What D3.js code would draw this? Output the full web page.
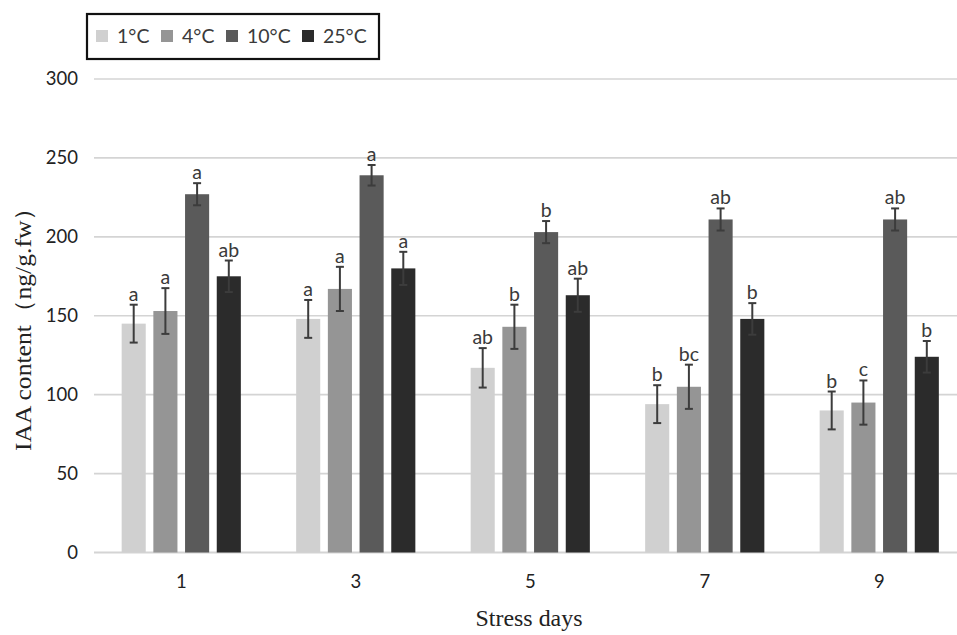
<!DOCTYPE html>
<html><head><meta charset="utf-8">
<script src="https://cdn.jsdelivr.net/npm/d3@7"></script>
<style>body{margin:0;background:#fff}svg{display:block}</style>
</head><body><svg id="c" width="957" height="635"></svg>
<script>
const days = ["1","3","5","7","9"];
const series = ["1°C","4°C","10°C","25°C"];
const v1 = [145,148,117,94,90];
const v4 = [153,167,143,105,95];
const v10 = [227,239,203,211,211];
const v25 = [175,180,163,148,124];
const e1 = [12,12,12.5,12,12];
const e4 = [14.5,14,14,14,14];
const e10 = [7,6.5,7,7,7];
const e25 = [10,10.5,10.5,10,10];
const l1 = ["a","a","ab","b","b"];
const l4 = ["a","a","b","bc","c"];
const l10 = ["a","a","b","ab","ab"];
const l25 = ["ab","a","ab","b","b"];
const yTicks = [0,50,100,150,200,250,300];
const colors = ["#d0d0d0","#959595","#5a5a5a","#2b2b2b"];

const vals=[v1,v4,v10,v25], errs=[e1,e4,e10,e25], labs=[l1,l4,l10,l25];
const svg=d3.select("#c");
const y=d3.scaleLinear().domain([0,300]).range([552.5,79]);
const x0=d3.scaleBand().domain(days).range([94,966.5]);
const x1=d3.scaleBand().domain(series).range([0,126.8]).paddingInner(0.24).paddingOuter(0.12);
const off=x0.bandwidth()/2-63.4;
const tickFont="Lato, 'Open Sans', sans-serif";
const serif="'Liberation Serif','DejaVu Serif',serif";

// grid
svg.append("g").selectAll("line").data(yTicks).join("line")
 .attr("x1",94).attr("x2",957).attr("y1",d=>y(d)).attr("y2",d=>y(d))
 .attr("stroke","#d4d4d4").attr("stroke-width",d=>d===0?2:1.6);
// y tick labels
svg.append("g").selectAll("text").data(yTicks).join("text")
 .attr("x",78).attr("y",d=>y(d)).attr("dy","0.35em").attr("text-anchor","end")
 .attr("font-family",tickFont).attr("font-size",18.5).attr("fill","#222").text(d=>d);
// x tick labels
svg.append("g").selectAll("text").data(days).join("text")
 .attr("x",d=>x0(d)+x0.bandwidth()/2).attr("y",588).attr("text-anchor","middle")
 .attr("font-family",tickFont).attr("font-size",18.5).attr("fill","#222").text(d=>d);

const data=[];
days.forEach((d,i)=>series.forEach((s,j)=>data.push({d,s,j,v:vals[j][i],e:errs[j][i],l:labs[j][i]})));
const g=svg.append("g");
g.selectAll("rect").data(data).join("rect")
 .attr("x",d=>x0(d.d)+off+x1(d.s)).attr("width",x1.bandwidth())
 .attr("y",d=>y(d.v)).attr("height",d=>y(0)-y(d.v)).attr("fill",d=>colors[d.j]);
const eb=svg.append("g").attr("stroke","#3c3c3c").attr("stroke-width",2);
data.forEach(d=>{
 const cx=x0(d.d)+off+x1(d.s)+x1.bandwidth()/2;
 eb.append("line").attr("x1",cx).attr("x2",cx).attr("y1",y(d.v+d.e)).attr("y2",y(d.v-d.e));
 eb.append("line").attr("x1",cx-4).attr("x2",cx+4).attr("y1",y(d.v+d.e)).attr("y2",y(d.v+d.e));
 eb.append("line").attr("x1",cx-4).attr("x2",cx+4).attr("y1",y(d.v-d.e)).attr("y2",y(d.v-d.e));
 svg.append("text").attr("x",cx).attr("y",y(d.v+d.e)-4).attr("text-anchor","middle")
  .attr("font-family",tickFont).attr("font-size",19.5).attr("fill","#3a3a3a").text(d.l);
});

// axis titles
svg.append("text").attr("x",529).attr("y",626).attr("text-anchor","middle")
 .attr("font-family",serif).attr("font-size",23).attr("fill","#222")
 .attr("textLength",107).attr("lengthAdjust","spacingAndGlyphs").text("Stress days");
svg.append("text").attr("transform","translate(31,323) rotate(-90)").attr("text-anchor","middle")
 .attr("font-family",serif).attr("font-size",23).attr("fill","#222")
 .attr("textLength",256).attr("lengthAdjust","spacingAndGlyphs").text("IAA content（ng/g.fw）");

// legend
const lg=svg.append("g");
lg.append("rect").attr("x",87).attr("y",14).attr("width",292).attr("height",45)
 .attr("fill","#fff").attr("stroke","#111").attr("stroke-width",2.2);
const lx=[96,161,226,302];
series.forEach((s,j)=>{
 lg.append("rect").attr("x",lx[j]).attr("y",30).attr("width",12).attr("height",12).attr("fill",colors[j]);
 lg.append("text").attr("x",lx[j]+21).attr("y",36).attr("dy","0.35em")
  .attr("font-family",tickFont).attr("font-size",19.5).attr("fill","#3a3a3a").text(s);
});
</script></body></html>
